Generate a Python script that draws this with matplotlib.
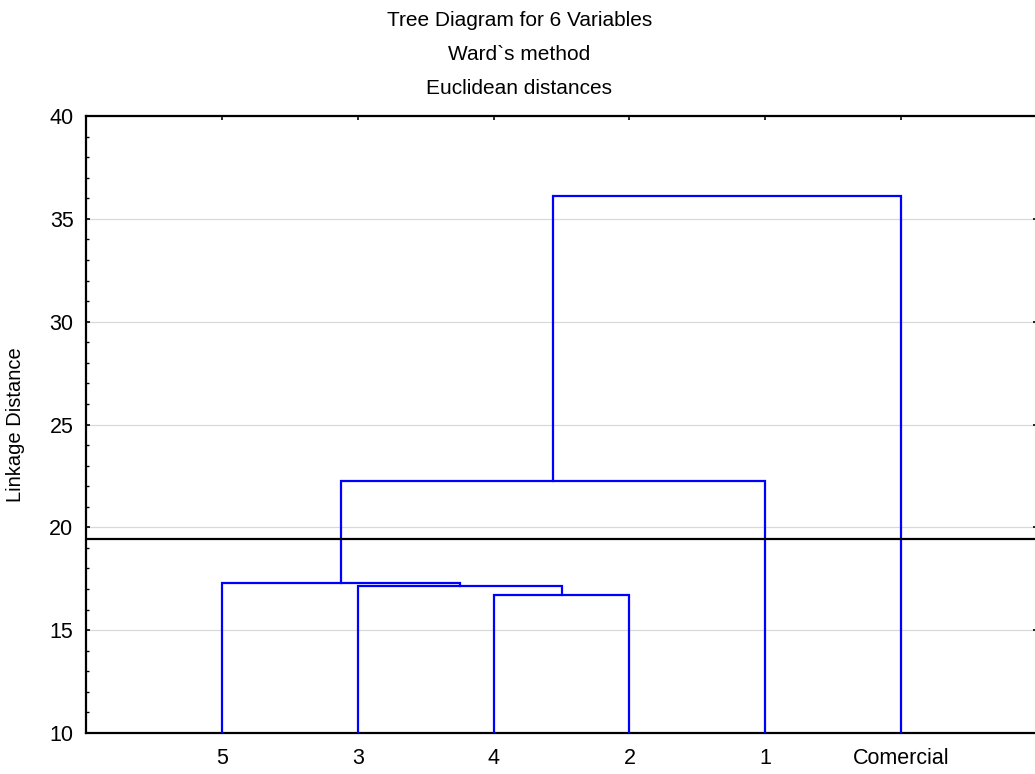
import matplotlib.pyplot as plt
import numpy as np

plt.rcParams['font.family'] = ['Liberation Sans', 'DejaVu Sans']

# leaf order along the x axis
leaves = ["5", "3", "4", "2", "1", "Comercial"]
# merges: (left member, right member, linkage distance); members are leaf
# names or indices of earlier merges
merges = [
    ("4", "2", 16.70),
    ("3", 0, 17.17),
    ("5", 1, 17.30),
    (2, "1", 22.27),
    (3, "Comercial", 36.13),
]
cut_level = 19.42

fig = plt.figure(figsize=(10.35, 7.74), dpi=100)
ax = fig.add_axes([86 / 1035, 1 - 733 / 774, 951 / 1035, 617 / 774])

pos = {name: i + 1 for i, name in enumerate(leaves)}
height = {name: 10.0 for name in leaves}
node_x, node_h = [], []


def where(m):
    if isinstance(m, int):
        return node_x[m], node_h[m]
    return pos[m], height[m]


for a, b, d in merges:
    xa, ha = where(a)
    xb, hb = where(b)
    ax.plot([xa, xa, xb, xb], [ha, d, d, hb], color='#0000ff', lw=1.6,
            solid_joinstyle='miter', zorder=3)
    node_x.append((xa + xb) / 2)
    node_h.append(d)

ax.axhline(cut_level, color='black', lw=1.6, zorder=4)

ax.set_xlim(0, 7)
ax.set_ylim(10, 40)
ax.set_xticks(range(1, len(leaves) + 1))
ax.set_xticklabels(leaves)
ax.set_yticks(range(10, 41, 5))
ax.set_yticks(range(10, 41), minor=True)
ax.grid(axis='y', which='major', color='#d9d9d9', lw=0.9, zorder=0)

ax.tick_params(axis='x', which='both', bottom=False, top=True, direction='in',
               length=3, width=1.2, labelsize=15.5, pad=11)
ax.tick_params(axis='y', which='major', left=True, right=True, direction='in',
               length=3, width=1.2, labelsize=15.5, pad=9)
ax.tick_params(axis='y', which='minor', left=True, right=False, direction='in',
               length=2, width=1.0)
for side in ['left', 'top', 'bottom', 'right']:
    ax.spines[side].set_linewidth(1.6)

ax.set_ylabel("Linkage Distance", fontsize=14.5)
ax.yaxis.set_label_coords(-0.064, 0.5)

titles = ["Tree Diagram for 6 Variables", "Ward`s method", "Euclidean distances"]
for i, t in enumerate(titles):
    fig.text(0.5 + 2 / 1035, 1 - (26 + 34 * i) / 774, t, ha='center',
             va='baseline', fontsize=15)

fig.savefig("out.png", dpi=100)
